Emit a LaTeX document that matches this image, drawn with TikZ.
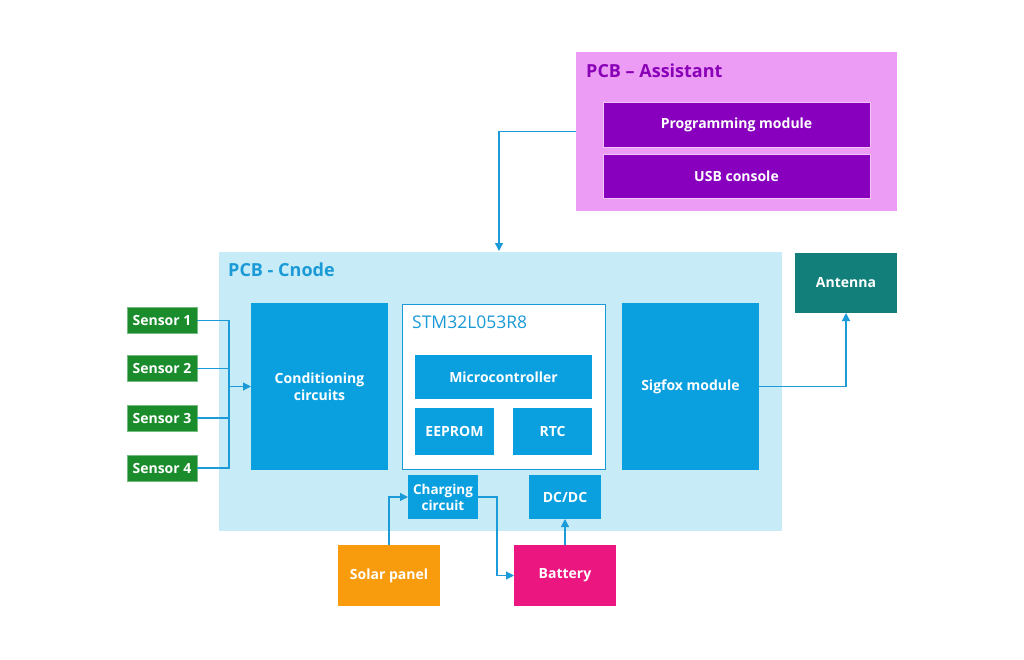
\documentclass[tikz,border=0pt]{standalone}
\usepackage{fontspec}
\setmainfont{Open Sans}
\usetikzlibrary{arrows.meta}
\definecolor{asfill}{HTML}{EC9CF5}
\definecolor{aspurple}{HTML}{8800BE}
\definecolor{astitle}{HTML}{8A00B8}
\definecolor{cnfill}{HTML}{C8EBF8}
\definecolor{cnblue}{HTML}{0AA0E0}
\definecolor{cntitle}{HTML}{1A9AD6}
\definecolor{sgreen}{HTML}{1A8C2C}
\definecolor{teal2}{HTML}{127F7A}
\definecolor{sorange}{HTML}{F89C0E}
\definecolor{smagenta}{HTML}{EC1680}
\definecolor{lineblue}{HTML}{1B9BD7}
\tikzset{
  blk/.style={inner sep=0pt, outer sep=0pt, text=white, align=center,
    font=\fontsize{14}{17}\selectfont\bfseries},
  bluebox/.style={blk, fill=cnblue},
  purplebox/.style={blk, fill=aspurple, draw=asfill!60!white, line width=0.8pt},
  sensorbox/.style={blk, fill=sgreen, draw=sgreen!60!white, line width=0.6pt, minimum width=70pt, minimum height=26pt},
  conn/.style={draw=lineblue, line width=1.2pt},
  arr/.style={conn, -{Triangle[length=8pt,width=8pt]}},
}
\begin{document}
\begin{tikzpicture}[x=1pt,y=-1pt]
\useasboundingbox (0,0) rectangle (1024,660);
\fill[white] (0,0) rectangle (1024,660);
% PCB Assistant
\node[inner sep=0pt, outer sep=0pt, fill=asfill, minimum width=321pt, minimum height=159pt] (pa) at (736.5,131.5) {};
\node[anchor=west, inner sep=0pt, text=astitle, font=\fontsize{18}{21}\selectfont\bfseries] (patitle) at (586,71) {PCB – Assistant};
\node[purplebox, minimum width=267pt, minimum height=45pt] (prog) at (736.5,124.5) {Programming module};
\node[purplebox, minimum width=267pt, minimum height=44pt] (usb) at (736.5,176) {USB console};
% PCB Cnode
\node[inner sep=0pt, outer sep=0pt, fill=cnfill, minimum width=563pt, minimum height=279pt] (cn) at (500.5,391.5) {};
\node[anchor=west, inner sep=0pt, text=cntitle, font=\fontsize{18}{21}\selectfont\bfseries] (cntitle) at (228,270) {PCB - Cnode};
\node[bluebox, minimum width=137pt, minimum height=167pt] (cond) at (319.5,386.5) {Conditioning\\circuits};
\node[inner sep=0pt, outer sep=0pt, fill=white, draw=cntitle, line width=1pt, minimum width=203pt, minimum height=165pt] (stm) at (503.5,386.5) {};
\node[anchor=west, inner sep=0pt, text=cntitle, font=\fontsize{17.5}{20}\selectfont] (stmtitle) at (412,322) {STM32L053R8};
\node[bluebox, minimum width=177pt, minimum height=44pt] (mcu) at (503.5,377) {Microcontroller};
\node[bluebox, minimum width=79pt, minimum height=47pt] (eep) at (454.5,431.5) {EEPROM};
\node[bluebox, minimum width=79pt, minimum height=47pt] (rtc) at (552.5,431.5) {RTC};
\node[bluebox, minimum width=137pt, minimum height=167pt] (sig) at (690.5,386.5) {Sigfox module};
\node[bluebox, minimum width=70pt, minimum height=44pt, font=\fontsize{13.5}{16}\selectfont\bfseries] (chg) at (443,497) {Charging\\circuit};
\node[bluebox, minimum width=72pt, minimum height=44pt] (dcdc) at (565,497) {DC/DC};
% outside
\node[blk, fill=teal2, minimum width=102pt, minimum height=60pt] (ant) at (846,283) {Antenna};
\node[blk, fill=sorange, minimum width=102pt, minimum height=61pt] (sol) at (389,575.5) {Solar panel};
\node[blk, fill=smagenta, minimum width=102pt, minimum height=61pt] (bat) at (565,575.5) {Battery};
% sensors
\node[sensorbox] (s1) at (162,320.5) {Sensor 1};
\node[sensorbox] (s2) at (162,368.5) {Sensor 2};
\node[sensorbox] (s3) at (162,418) {Sensor 3};
\node[sensorbox] (s4) at (162,468) {Sensor 4};
% connectors
\coordinate (bus) at (229,386.5);
\draw[conn] (s1.east) -| (bus);
\draw[conn] (s4.east) -| (bus);
\draw[conn] (s2.east) -- (s2.east -| bus);
\draw[conn] (s3.east) -- (s3.east -| bus);
\draw[arr] (bus) -- (cond.west);
\coordinate (cnin) at (499,251);
\draw[arr] (pa.west) -| (cnin);
\draw[arr] (sig.east) -| (ant.south);
\draw[arr] (sol.north) |- (chg.west);
\draw[arr] (chg.east) -- ++(19,0) |- (bat.west);
\draw[arr] (bat.north) -- (dcdc.south);
\end{tikzpicture}
\end{document}
